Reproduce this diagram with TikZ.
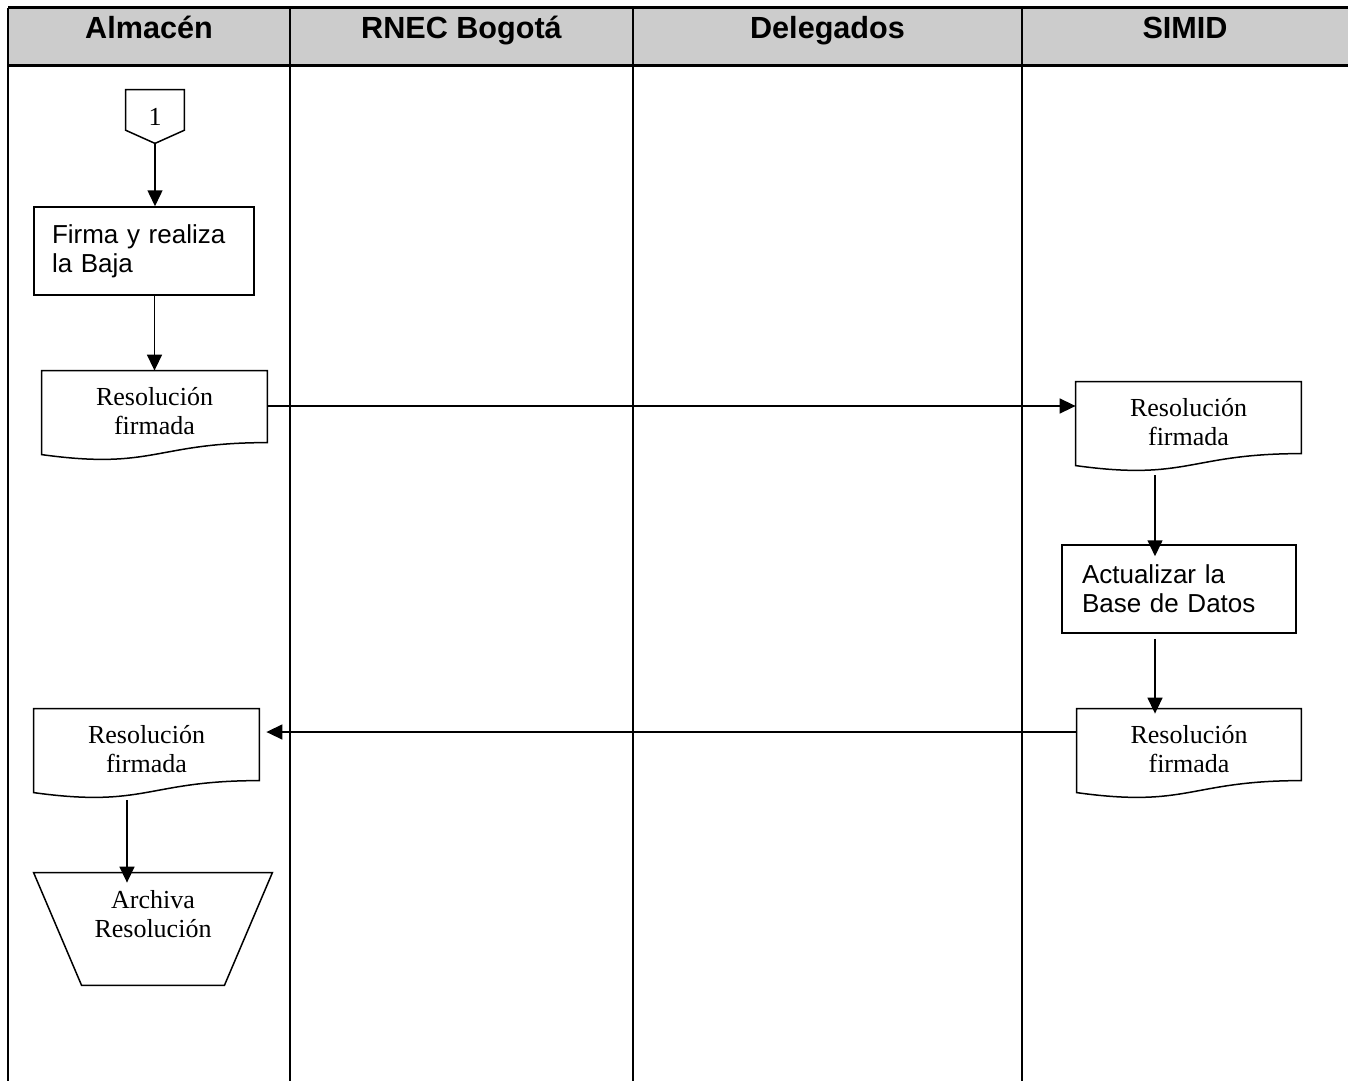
\documentclass[tikz,border=0pt]{standalone}
\usepackage{fontspec}
\setmainfont{Liberation Serif}
\setsansfont{Liberation Sans}
\usetikzlibrary{arrows.meta,calc}

% outline of a document symbol around a text node (wavy lower edge)
\newcommand\docoutline[1]{%
  \draw[outline] (#1.north west) -- (#1.north east)
    -- ([yshift=-36pt]#1.north east)
    .. controls ([yshift=-36pt]#1.north) and ([yshift=-49.8pt]#1.north)
    .. ([yshift=-42pt]#1.north west) -- cycle;}

\begin{document}
\begin{tikzpicture}[x=0.5pt,y=-0.5pt,
  lane/.style={line width=1pt},
  headline/.style={line width=1.5pt},
  outline/.style={line width=0.75pt},
  headtext/.style={font=\sffamily\bfseries\fontsize{15.3}{18}\selectfont, anchor=base},
  arr/.style={line width=0.75pt,-{Triangle[length=8pt,width=7.5pt]}},
  procbox/.style={draw, line width=0.75pt, font=\sffamily\fontsize{13}{14.5}\selectfont,
    align=left, inner ysep=0pt, minimum height=44pt},
  doctext/.style={font=\fontsize{13}{14.5}\selectfont, align=center, inner sep=0pt,
    minimum width=112.5pt, minimum height=40.5pt},
  conntext/.style={font=\fontsize{13}{14.5}\selectfont, inner sep=0pt,
    minimum width=29pt, minimum height=26.5pt},
  filetext/.style={font=\fontsize{13}{14.5}\selectfont, align=center, inner sep=0pt,
    minimum width=119pt, minimum height=41pt}
]
\useasboundingbox (0,0) rectangle (1348,1081);

% header band
\fill[black!20] (8,8) rectangle (1348,66);
\draw[headline] (8,8) -- (1348,8);
\draw[headline] (8,66) -- (1348,66);

% lane separators
\draw[lane] (8,8) -- (8,1081);
\draw[lane] (290,8) -- (290,1081);
\draw[lane] (633,8) -- (633,1081);
\draw[lane] (1022,8) -- (1022,1081);

% lane titles
\node[headtext] (hA) at (149,39) {Almacén};
\node[headtext] (hR) at (461.5,39) {RNEC Bogotá};
\node[headtext] (hD) at (827.5,39) {Delegados};
\node[headtext] (hS) at (1185,39) {SIMID};

% off-page connector
\node[conntext] (c1) at (155,116.5) {1};
\draw[outline] (c1.north west) -- (c1.north east)
  -- ($(c1.north east)!0.755!(c1.south east)$) -- (c1.south)
  -- ($(c1.north west)!0.755!(c1.south west)$) -- cycle;

% process boxes
\node[procbox, text width=92pt, inner xsep=9pt] (box1) at (144,251) {Firma y realiza\\la Baja};
\node[procbox, text width=97pt, inner xsep=10pt] (box2) at (1179,589) {Actualizar la\\Base de Datos};

% documents
\node[doctext] (docA) at (154.5,411.5) {Resolución\\firmada};
\docoutline{docA}
\node[doctext] (docB) at (1188.5,422.5) {Resolución\\firmada};
\docoutline{docB}
\node[doctext, minimum width=112pt] (docC) at (1189,749.5) {Resolución\\firmada};
\docoutline{docC}
\node[doctext] (docD) at (146.5,749.5) {Resolución\\firmada};
\docoutline{docD}

% manual operation (archive)
\node[filetext] (arch) at (153,914) {Archiva\\Resolución};
\draw[outline] (arch.north west) -- (arch.north east)
  -- ([xshift=-24pt,yshift=-15pt]arch.south east)
  -- ([xshift=24pt,yshift=-15pt]arch.south west) -- cycle;

% flow
\draw[arr] (c1.south) -- (c1.south |- box1.north);
\draw[arr] (docA.north |- box1.south) -- (docA.north);
\draw[arr] ([yshift=2.75pt]docA.east) -- ([yshift=2.75pt]docA.east -| docB.west);
\draw[arr] ([xshift=-16.75pt,yshift=-6pt]docB.south) -- ([xshift=-16.75pt,yshift=-6pt]docB.south |- box2.north);
\draw[arr] ([xshift=-12pt,yshift=-2.5pt]box2.south) -- ([xshift=-12pt,yshift=-2.5pt]box2.south |- docC.north);
\draw[arr, shorten >=3.5pt] ([yshift=8.75pt]docC.west) -- ([yshift=8.75pt]docC.west -| docD.east);
\draw[arr] ([xshift=-9.75pt,yshift=-5pt]docD.south) -- ([xshift=-9.75pt,yshift=-5pt]docD.south |- arch.north);
\end{tikzpicture}
\end{document}
